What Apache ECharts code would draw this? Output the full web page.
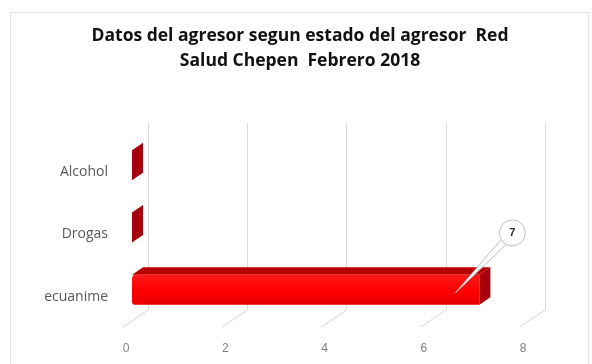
<!DOCTYPE html>
<html>
<head>
<meta charset="utf-8">
<script src="https://cdn.jsdelivr.net/npm/echarts@6/dist/echarts.min.js"></script>
<style>
  html, body { margin: 0; padding: 0; background: #ffffff; }
  #chart { width: 592px; height: 364px; }
</style>
</head>
<body>
<div id="chart"></div>
<script>
// Categories (bottom to top) and their counts
const categories = ['ecuanime', 'Drogas', 'Alcohol'];
const counts = [7, 0, 0];
// Value-axis ticks
const xTicks = [0, 2, 4, 6, 8];
const chartTitle = 'Datos del agresor segun estado del agresor  Red\nSalud Chepen  Febrero 2018';

// Pseudo-3D geometry: the grid is the back wall, the floor comes toward the viewer
const FLOOR_DX = -25, FLOOR_DY = 17;      // back wall -> front edge of floor
const FACE_DX = -16, FACE_DY = 11;        // back wall -> front face of a bar
const BAR_DX = 11, BAR_DY = -7.5;         // bar depth
const BAR_RATIO = 0.48;                   // bar height / category band

const chart = echarts.init(document.getElementById('chart'), null, { renderer: 'canvas' });

function renderBar(params, api) {
  const val = api.value(0);
  const cat = api.value(1);
  const p0 = api.coord([0, cat]);
  const p1 = api.coord([val, cat]);
  const band = api.size([0, 1])[1];
  const h = band * BAR_RATIO;
  const xl = p0[0] + FACE_DX;
  const xr = p1[0] + FACE_DX;
  const cy = p0[1] + FACE_DY;
  const yt = cy - h / 2;
  const yb = cy + h / 2;
  const children = [];
  if (xr - xl > 0.5) {
    children.push({
      type: 'polygon',
      shape: { points: [[xl, yt], [xr, yt], [xr + BAR_DX, yt + BAR_DY], [xl + BAR_DX, yt + BAR_DY]] },
      style: { fill: '#b80000' }
    });
    children.push({
      type: 'rect',
      shape: { x: xl, y: yt, width: xr - xl, height: h, r: [4, 0, 0, 3] },
      style: {
        fill: new echarts.graphic.LinearGradient(0, 0, 0, 1, [
          { offset: 0, color: '#ff1a1a' },
          { offset: 0.5, color: '#ff0000' },
          { offset: 1, color: '#e80000' }
        ])
      }
    });
  }
  children.push({
    type: 'polygon',
    shape: { points: [[xr, yt], [xr + BAR_DX, yt + BAR_DY], [xr + BAR_DX, yb + BAR_DY], [xr, yb]] },
    style: { fill: '#a5000c' }
  });
  if (val > 0) {
    // callout bubble with the value
    const tip = [xr - 24, yt + 18];
    const c = [xr + 33, yt - 42];
    const r = 13;
    const ang = Math.atan2(tip[1] - c[1], tip[0] - c[0]);
    const a1 = ang + 0.28, a2 = ang - 0.28;
    children.push({
      type: 'polygon',
      shape: { points: [tip, [c[0] + r * Math.cos(a1), c[1] + r * Math.sin(a1)], [c[0] + r * Math.cos(a2), c[1] + r * Math.sin(a2)]] },
      style: { fill: '#ffffff', stroke: '#bfbfbf', lineWidth: 1 }
    });
    children.push({
      type: 'circle',
      shape: { cx: c[0], cy: c[1], r: r },
      style: { fill: '#ffffff', stroke: '#bfbfbf', lineWidth: 1 }
    });
    children.push({
      type: 'text',
      style: {
        x: c[0], y: c[1], text: String(val), align: 'center', verticalAlign: 'middle',
        fill: '#262626', font: 'bold 11px "Liberation Sans", Arial, sans-serif'
      }
    });
  }
  return { type: 'group', children: children };
}

function renderFloor(params, api) {
  const cs = params.coordSys;
  const p = api.coord([api.value(0), 0]);
  const yBase = cs.y + cs.height;
  return {
    type: 'line',
    shape: { x1: p[0], y1: yBase, x2: p[0] + FLOOR_DX, y2: yBase + FLOOR_DY },
    style: { stroke: '#c9d6e3', lineWidth: 1 }
  };
}

chart.setOption({
  backgroundColor: '#ffffff',
  animation: false,
  title: {
    text: chartTitle,
    left: 295,
    textAlign: 'center',
    top: 19,
    textStyle: {
      fontFamily: '"Open Sans", sans-serif',
      fontWeight: 'bold',
      fontSize: 17.5,
      lineHeight: 25,
      color: '#111111'
    }
  },
  graphic: [{
    type: 'rect',
    shape: { x: 10.5, y: 12.5, width: 578, height: 360 },
    style: { fill: 'none', stroke: '#e3e3e3', lineWidth: 1 },
    silent: true,
    z: -1
  }],
  grid: { left: 148, right: 47, top: 123, bottom: 54 },
  xAxis: {
    type: 'value',
    min: 0,
    max: 8,
    interval: 2,
    axisLine: { show: false },
    axisTick: { show: false },
    splitLine: { show: true, lineStyle: { color: '#d9d9d9', width: 1 } },
    axisLabel: {
      margin: 33,
      padding: [0, 44, 0, 0],
      color: '#808080',
      fontSize: 12,
      fontFamily: '"Liberation Sans", Arial, sans-serif'
    }
  },
  yAxis: {
    type: 'category',
    data: categories,
    axisLine: { show: false },
    axisTick: { show: false },
    splitLine: { show: false },
    axisLabel: {
      margin: 40,
      verticalAlign: 'top',
      lineHeight: 36,
      color: '#595959',
      fontSize: 14,
      fontFamily: '"Open Sans", sans-serif'
    }
  },
  series: [
    {
      type: 'custom',
      name: 'floor',
      renderItem: renderFloor,
      data: xTicks.map(t => [t]),
      silent: true,
      z: 1
    },
    {
      type: 'custom',
      name: 'agresor',
      renderItem: renderBar,
      data: counts.map((v, i) => [v, i]),
      encode: { x: 0, y: 1 },
      z: 2
    }
  ]
});
</script>
</body>
</html>
